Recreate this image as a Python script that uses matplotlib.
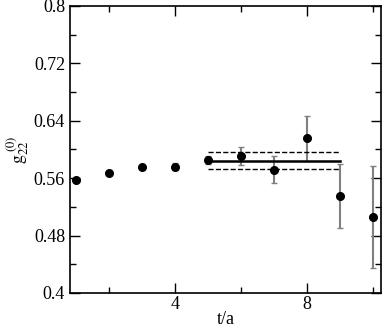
import numpy as np
import matplotlib
matplotlib.use("Agg")
import matplotlib.pyplot as plt
from matplotlib.ticker import MultipleLocator

t = [1, 2, 3, 4, 5, 6, 7, 8, 9, 10]
g22 = [0.5575, 0.567, 0.5755, 0.576, 0.5855, 0.591, 0.572, 0.6155, 0.535, 0.5055]
err = [0.002, 0.002, 0.002, 0.005, 0.006, 0.012, 0.019, 0.031, 0.045, 0.071]

fit_t = [5, 9]
fit_val = 0.5845
fit_lo = 0.5725
fit_hi = 0.5960

plt.rcParams["font.family"] = ["Liberation Serif", "DejaVu Serif"]
plt.rcParams["mathtext.fontset"] = "stix"

fig = plt.figure(figsize=(3.82, 3.27), dpi=100)
ax = fig.add_axes([0.183, 0.104, 0.814, 0.878])

ax.errorbar(t, g22, yerr=err, fmt="none", ecolor="#808080", elinewidth=1.5,
            capsize=2, capthick=1.0)
ax.plot(t, g22, "o", color="black", markersize=5.5)

ax.plot(fit_t, [fit_val, fit_val], color="black", lw=1.8)
ax.plot(fit_t, [fit_lo, fit_lo], color="black", lw=1.0, ls="--")
ax.plot(fit_t, [fit_hi, fit_hi], color="black", lw=1.0, ls="--")

ax.set_xlim(0.8, 10.25)
ax.set_ylim(0.4, 0.8)
ax.xaxis.set_minor_locator(MultipleLocator(2))
ax.yaxis.set_minor_locator(MultipleLocator(0.04))
ax.set_xticks([4, 8])
ax.set_yticks([0.4, 0.48, 0.56, 0.64, 0.72, 0.8])
ax.set_yticklabels(["0.4", "0.48", "0.56", "0.64", "0.72", "0.8"])
ax.tick_params(which="both", direction="in", top=True, right=True, labelsize=13)
ax.tick_params(axis="x", pad=2)
ax.tick_params(which="major", length=7, width=1)
ax.tick_params(which="minor", length=4, width=1)
for s in ax.spines.values():
    s.set_linewidth(1.2)

ax.set_xlabel("t/a", fontsize=13, labelpad=-1)
ax.set_ylabel(r"$\mathrm{g}_{22}^{\ (0)}$", fontsize=13, labelpad=1)

fig.savefig("out.png", dpi=100)
